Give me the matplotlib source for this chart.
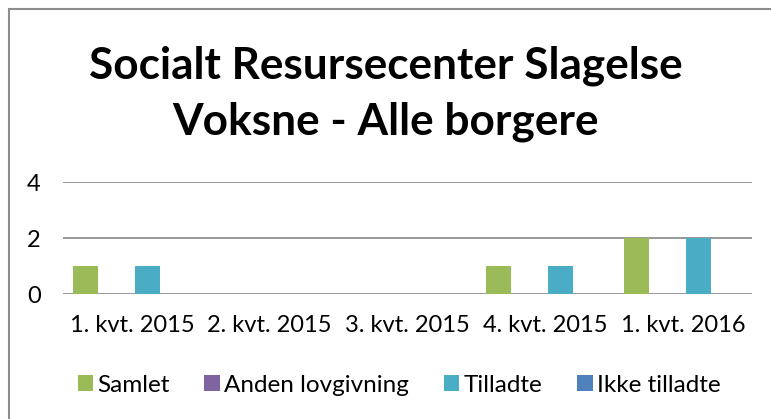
import matplotlib
matplotlib.use("Agg")
import matplotlib.pyplot as plt
import numpy as np
from matplotlib.patches import Rectangle, Patch

# data
categories = ["1. kvt. 2015", "2. kvt. 2015", "3. kvt. 2015", "4. kvt. 2015", "1. kvt. 2016"]
series_names = ["Samlet", "Anden lovgivning", "Tilladte", "Ikke tilladte"]
samlet = [1, 0, 0, 1, 2]
anden_lovgivning = [0, 0, 0, 0, 0]
tilladte = [1, 0, 0, 1, 2]
ikke_tilladte = [0, 0, 0, 0, 0]
colors = ["#9BBB59", "#8064A2", "#4BACC6", "#4F81BD"]

plt.rcParams["font.family"] = ["Lato", "DejaVu Sans"]

fig = plt.figure(figsize=(7.71, 4.19), dpi=100)
ax = fig.add_axes([63 / 771, 1 - 294 / 419, (752 - 63) / 771, (294 - 182) / 419])

x = np.arange(len(categories))
width = 0.18
step = 0.225
all_series = [samlet, anden_lovgivning, tilladte, ikke_tilladte]
for i, (vals, c) in enumerate(zip(all_series, colors)):
    ax.bar(x + (i - 1.5) * step, vals, width, color=c, zorder=3)

ax.set_xlim(-0.5, len(categories) - 0.5)
ax.set_ylim(0, 4)
ax.set_yticks([0, 2, 4])
ax.set_xticks(x)
ax.set_xticklabels(categories, fontsize=17)
ax.tick_params(axis="y", labelsize=17, length=0, pad=16)
ax.tick_params(axis="x", length=0, pad=15)
for s in ax.spines.values():
    s.set_visible(False)
ax.yaxis.grid(True, color="#868686", linewidth=1.2, zorder=0)
ax.set_axisbelow(True)

# title
fig.text(0.5, 1 - 66 / 419, "Socialt Resursecenter Slagelse", ha="center", va="center",
         fontsize=31.8, fontweight="bold")
fig.text(0.5, 1 - 122 / 419, "Voksne - Alle borgere", ha="center", va="center",
         fontsize=31.8, fontweight="bold")

# legend
handles = [Patch(facecolor=c) for c in colors]
fig.legend(handles, series_names, loc="center", bbox_to_anchor=(399 / 771, 1 - 385 / 419),
           ncol=4, frameon=False, fontsize=17.5, handlelength=0.65, handleheight=0.65,
           handletextpad=0.17, columnspacing=1.42)

# chart border
fig.patches.append(Rectangle((8.5 / 771, -0.1), 1.2, 1 - 9.5 / 419 + 0.1, transform=fig.transFigure,
                             fill=False, edgecolor="#8c8c8c", linewidth=1.5))

fig.savefig("out.png", dpi=100)
